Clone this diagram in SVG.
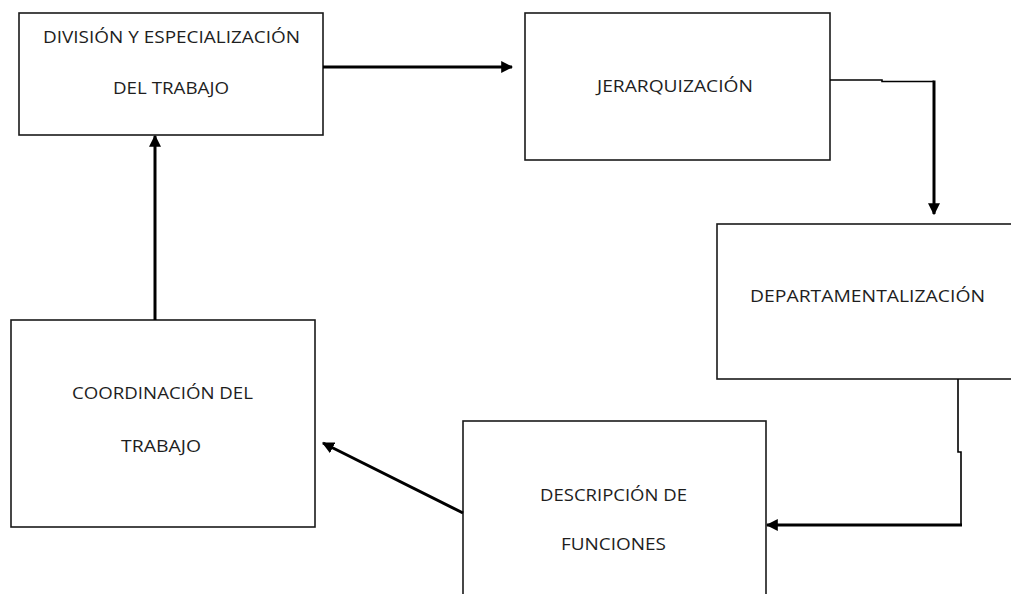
<svg xmlns="http://www.w3.org/2000/svg" width="1011" height="594" viewBox="0 0 1011 594">
  <style>
    .box { fill: #fff; stroke: #1a1a1a; stroke-width: 1.6; }
    .lbl { font-family: "Open Sans", "DejaVu Sans", sans-serif; font-size: 17px; fill: #1e1e1e; text-anchor: start; }
    .thick { fill: none; stroke: #000; stroke-width: 3; }
    .thin { fill: none; stroke: #000; stroke-width: 1.6; }
  </style>
  <defs>
    <marker id="head" viewBox="0 0 10 10" refX="9" refY="5" markerWidth="4" markerHeight="4" markerUnits="strokeWidth" orient="auto">
      <path d="M0,0 L10,5 L0,10 z" fill="#000"/>
    </marker>
  </defs>
  <rect width="1011" height="594" fill="#fff"/>

  <g id="n-division">
    <rect class="box" x="19" y="13" width="304" height="122"/>
    <text class="lbl" x="43" y="43" textLength="257" lengthAdjust="spacingAndGlyphs">DIVISIÓN Y ESPECIALIZACIÓN</text>
    <text class="lbl" x="113" y="94" textLength="116" lengthAdjust="spacingAndGlyphs">DEL TRABAJO</text>
  </g>

  <g id="n-jerarquizacion">
    <rect class="box" x="525" y="13" width="305" height="147"/>
    <text class="lbl" x="597" y="92" textLength="156" lengthAdjust="spacingAndGlyphs">JERARQUIZACIÓN</text>
  </g>

  <g id="n-departamentalizacion">
    <rect class="box" x="717" y="224" width="310" height="155"/>
    <text class="lbl" x="750" y="302" textLength="235" lengthAdjust="spacingAndGlyphs">DEPARTAMENTALIZACIÓN</text>
  </g>

  <g id="n-descripcion">
    <rect class="box" x="463" y="421" width="303" height="190"/>
    <text class="lbl" x="540" y="501" textLength="147" lengthAdjust="spacingAndGlyphs">DESCRIPCIÓN DE</text>
    <text class="lbl" x="561" y="550" textLength="105" lengthAdjust="spacingAndGlyphs">FUNCIONES</text>
  </g>

  <g id="n-coordinacion">
    <rect class="box" x="11" y="320" width="304" height="207"/>
    <text class="lbl" x="72" y="399" textLength="181" lengthAdjust="spacingAndGlyphs">COORDINACIÓN DEL</text>
    <text class="lbl" x="121" y="452" textLength="80" lengthAdjust="spacingAndGlyphs">TRABAJO</text>
  </g>

  <g id="connectors">
    <!-- division -> jerarquizacion -->
    <path class="thick" d="M323,67 L512,67" marker-end="url(#head)"/>
    <!-- jerarquizacion -> departamentalizacion -->
    <path class="thin" d="M830,80 L882,80 L882,81.5 L934,81.5"/>
    <path class="thick" d="M934,80.5 L934,214" marker-end="url(#head)"/>
    <!-- departamentalizacion -> descripcion -->
    <path class="thin" d="M958,379 L958,452 L961,452 L961,526"/>
    <path class="thick" d="M962,525 L767,525" marker-end="url(#head)"/>
    <!-- descripcion -> coordinacion -->
    <path class="thick" d="M463,513 L323,443" marker-end="url(#head)"/>
    <!-- coordinacion -> division -->
    <path class="thick" d="M155,320 L155,136" marker-end="url(#head)"/>
  </g>
</svg>
